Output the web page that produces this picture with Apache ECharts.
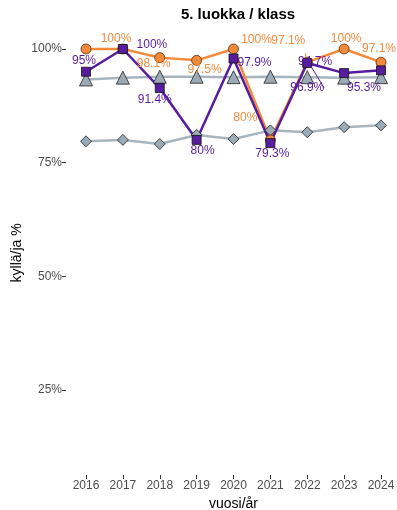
<!DOCTYPE html>
<html><head><meta charset="utf-8">
<script src="https://cdn.jsdelivr.net/npm/echarts@6/dist/echarts.min.js"></script>
<style>html,body{margin:0;padding:0;background:#fff}#c{width:397px;height:510px}</style>
</head><body><div id="c"></div>
<script>
const years = [2016, 2017, 2018, 2019, 2020, 2021, 2022, 2023, 2024];
const orangeValues = [100, 100, 98.1, 97.5, 100, 80, 97.1, 100, 97.1];
const purpleValues = [95, 100, 91.4, 80, 97.9, 79.3, 96.9, 94.7, 95.3];
const greyTriangleValues = [93.3, 93.7, 93.9, 93.9, 93.8, 93.9, 93.8, 93.7, 93.8];
const greyDiamondValues = [79.7, 80.0, 79.1, 81.1, 80.2, 82.1, 81.7, 82.8, 83.2];
const yTicks = [25, 50, 75, 100];

// label placement (styling), kept apart from the data
const orangeLabelOffsets = [[30,-10], null, [-6,6], [8,9], [23,-9], [-25,-22], [-19,-21], [2,-10], [-2,-13]];
const purpleLabelOffsets = [[-2,-11], [29,-4], [-5,12], [6,11], [21,4], [2,11], [0,25], [-29,-11], [-17,17]];
const orangeGuide = [false,false,false,false,false,false,true,false,false];
const purpleGuide = [false,false,false,false,false,false,true,false,false];

const FONT = '"Liberation Sans", Arial, sans-serif';
const ORANGE = '#F28A3B';
const PURPLE = '#581C9E';
const GREYLINE = '#A7B5BF';
const GREYFILL = '#9BAAB5';

function fmt(v){ return (Math.round(v*10)/10) + '%'; }

function withLabels(vals, offsets, guides, color){
  return vals.map((v,i)=>{
    const o = offsets[i];
    const item = {
      value: [years[i], v],
      label: o ? {show:true, position:'inside', offset:o, formatter: fmt(v), color: color,
                  fontFamily: FONT, fontSize: 12} : {show:false}
    };
    if (guides[i]) item.labelLine = {show: true, length2: 0, smooth: false, lineStyle: {color: color, width: 1}};
    return item;
  });
}
function plain(vals){ return vals.map((v,i)=>[years[i], v]); }

const chart = echarts.init(document.getElementById('c'), null, {renderer:'canvas'});
chart.setOption({
  animation: false,
  backgroundColor: '#fff',
  title: {
    text: '5. luokka / klass', left: 233, top: 2, textAlign: 'center',
    textStyle: {fontFamily: FONT, fontSize: 15, fontWeight: 'bold', color: '#000'}
  },
  grid: {left: 86, right: 16, top: 30.8, bottom: 35, containLabel: false, outerBoundsMode: 'none'},
  xAxis: {
    type: 'value', min: 2016, max: 2024, interval: 1,
    axisLine: {show: false},
    axisTick: {show: true, length: 4, lineStyle: {color: '#333', width: 1}},
    splitLine: {show: false},
    axisLabel: {color: '#4D4D4D', fontFamily: FONT, fontSize: 12, margin: 5, formatter: v => String(v)},
    name: 'vuosi/år', nameLocation: 'middle', nameGap: 19,
    nameTextStyle: {fontFamily: FONT, fontSize: 14, color: '#000'}
  },
  yAxis: {
    type: 'value', min: 6.3, max: 104, offset: 20,
    axisLine: {show: false},
    axisTick: {show: true, length: 4, lineStyle: {color: '#333', width: 1}, customValues: yTicks},
    splitLine: {show: false},
    axisLabel: {color: '#4D4D4D', fontFamily: FONT, fontSize: 12, margin: 4, customValues: yTicks,
                formatter: v => v + '%'},
    name: 'kyllä/ja %', nameLocation: 'middle', nameGap: 42, nameRotate: 90, nameMoveOverlap: false,
    nameTextStyle: {fontFamily: FONT, fontSize: 14, color: '#000'}
  },
  series: [
    {
      type: 'line', data: plain(greyDiamondValues), clip: false,
      symbol: 'diamond', symbolSize: 11,
      lineStyle: {color: GREYLINE, width: 2.5},
      itemStyle: {color: GREYFILL, borderColor: '#222', borderWidth: 0.8}
    },
    {
      type: 'line', data: plain(greyTriangleValues), clip: false,
      symbol: 'triangle', symbolSize: 13,
      lineStyle: {color: GREYLINE, width: 2.5},
      itemStyle: {color: GREYFILL, borderColor: '#222', borderWidth: 0.8}
    },
    {
      type: 'line', data: withLabels(orangeValues, orangeLabelOffsets, orangeGuide, ORANGE), clip: false,
      symbol: 'circle', symbolSize: 10,
      lineStyle: {color: ORANGE, width: 2.5},
      itemStyle: {color: ORANGE, borderColor: '#5a3010', borderWidth: 0.8}
    },
    {
      type: 'line', data: withLabels(purpleValues, purpleLabelOffsets, purpleGuide, PURPLE), clip: false,
      symbol: 'rect', symbolSize: 9,
      lineStyle: {color: PURPLE, width: 2.5},
      itemStyle: {color: PURPLE, borderColor: '#111', borderWidth: 0.8}
    }
  ]
});
</script></body></html>
